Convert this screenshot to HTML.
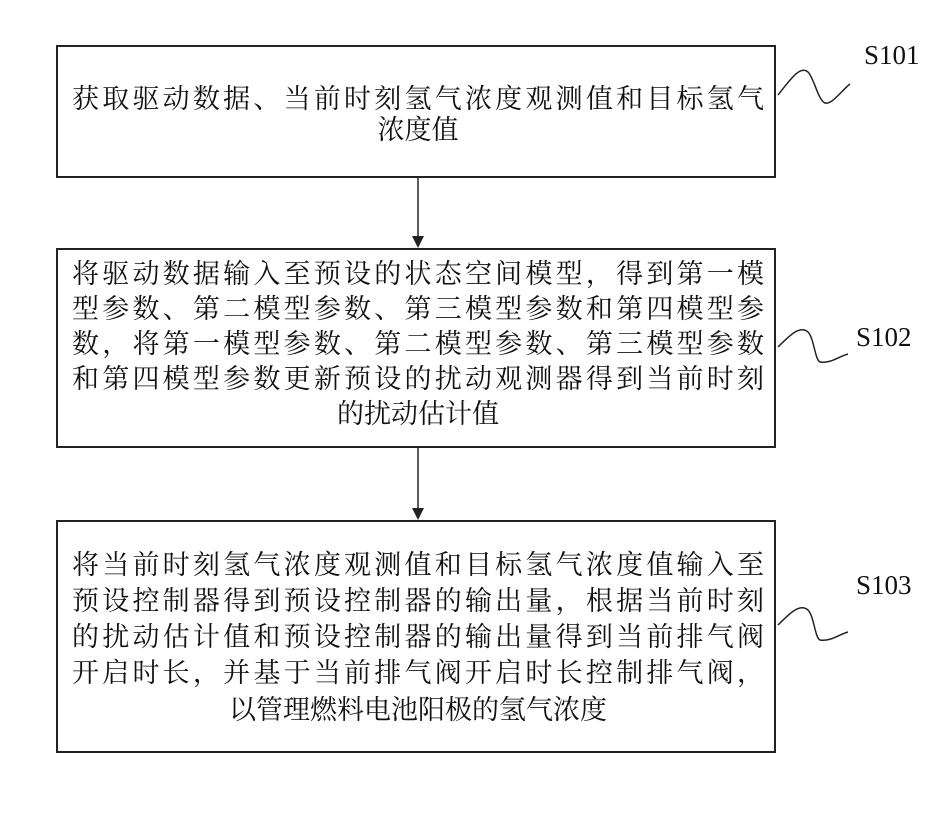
<!DOCTYPE html>
<html><head><meta charset="utf-8"><style>
body{margin:0;width:944px;height:834px;background:#fff;position:relative;overflow:hidden;font-family:"Liberation Serif","Noto Serif CJK SC",serif;color:#111}
.box{position:absolute;left:56px;width:720px;border:2px solid #222;box-sizing:border-box}
.ln{position:absolute;left:14px;width:692px;font-size:27px;line-height:30px;text-align:justify;text-align-last:justify;white-space:nowrap}
.c{text-align:center;text-align-last:center}
.lab{position:absolute;font-size:27px}
</style></head><body>
<div class="box" style="top:45px;height:133px">
 <div class="ln" style="top:37px">获取驱动数据、当前时刻氢气浓度观测值和目标氢气</div>
 <div class="ln c" style="top:68px">浓度值</div>
</div>
<div class="box" style="top:248px;height:200px">
 <div class="ln" style="top:9px">将驱动数据输入至预设的状态空间模型，得到第一模</div>
 <div class="ln" style="top:44px">型参数、第二模型参数、第三模型参数和第四模型参</div>
 <div class="ln" style="top:79px">数，将第一模型参数、第二模型参数、第三模型参数</div>
 <div class="ln" style="top:114px">和第四模型参数更新预设的扰动观测器得到当前时刻</div>
 <div class="ln c" style="top:149px">的扰动估计值</div>
</div>
<div class="box" style="top:520px;height:233px">
 <div class="ln" style="top:28px">将当前时刻氢气浓度观测值和目标氢气浓度值输入至</div>
 <div class="ln" style="top:64px">预设控制器得到预设控制器的输出量，根据当前时刻</div>
 <div class="ln" style="top:100px">的扰动估计值和预设控制器的输出量得到当前排气阀</div>
 <div class="ln" style="top:136px">开启时长，并基于当前排气阀开启时长控制排气阀，</div>
 <div class="ln c" style="top:173px">以管理燃料电池阳极的氢气浓度</div>
</div>
<svg width="944" height="834" style="position:absolute;left:0;top:0" fill="none" stroke="#222" stroke-width="1.5">
 <line x1="418" y1="178" x2="418" y2="238"/><polygon points="412,236 424,236 418,248" fill="#222" stroke="none"/>
 <line x1="418" y1="448" x2="418" y2="510"/><polygon points="412,508 424,508 418,520" fill="#222" stroke="none"/>
 <path d="M778,95 C790,80 800,65 808,72 C814,78 818,100 825,103 C832,105 842,90 850,84"/>
 <path d="M778,347 C790,335 800,325 808,332 C814,338 815,360 820,362 C830,364 840,356 848,354"/>
 <path d="M778,625 C790,613 800,603 808,610 C814,616 815,638 820,640 C830,642 840,634 848,632"/>
</svg>
<div class="lab" style="left:864px;top:40px">S101</div>
<div class="lab" style="left:856px;top:322px">S102</div>
<div class="lab" style="left:856px;top:570px">S103</div>
</body></html>
